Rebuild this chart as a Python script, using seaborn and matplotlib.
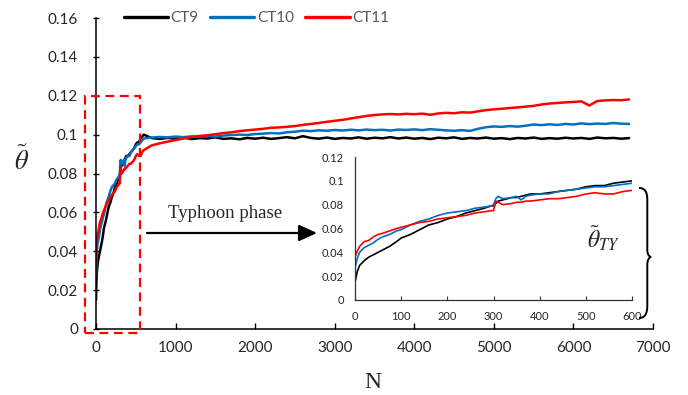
import pandas as pd
import seaborn as sns
import matplotlib.pyplot as plt
from matplotlib.patches import Rectangle, PathPatch
from matplotlib.path import Path
from matplotlib.patches import ArrowStyle
from matplotlib.ticker import FuncFormatter, MultipleLocator

# typhoon phase (first 600 steps), shared by the inset and the main plot
n_ty = [0, 5, 10, 20, 30, 40, 50, 60, 75, 90, 100, 120, 140, 160, 180, 200,
        220, 240, 260, 280, 295, 300, 305, 310, 320, 340, 350, 360, 370, 380,
        400, 420, 440, 460, 480, 500, 520, 540, 560, 580, 600]
ct9_ty = [0.015, 0.024, 0.029, 0.033, 0.036, 0.038, 0.040, 0.042, 0.045, 0.049,
          0.052, 0.055, 0.059, 0.063, 0.065, 0.068, 0.070, 0.073, 0.075, 0.077,
          0.079, 0.079, 0.081, 0.083, 0.084, 0.086, 0.086, 0.087, 0.088, 0.089,
          0.089, 0.090, 0.091, 0.092, 0.093, 0.095, 0.096, 0.096, 0.098, 0.099,
          0.100]
ct10_ty = [0.027, 0.035, 0.040, 0.044, 0.046, 0.048, 0.051, 0.053, 0.055, 0.058,
           0.059, 0.063, 0.066, 0.068, 0.071, 0.073, 0.074, 0.075, 0.077, 0.078,
           0.079, 0.080, 0.085, 0.087, 0.085, 0.086, 0.087, 0.084, 0.087, 0.088,
           0.089, 0.089, 0.091, 0.092, 0.093, 0.094, 0.095, 0.095, 0.096, 0.097,
           0.098]
ct11_ty = [0.036, 0.041, 0.045, 0.049, 0.050, 0.053, 0.055, 0.056, 0.058, 0.060,
           0.061, 0.063, 0.065, 0.066, 0.068, 0.069, 0.070, 0.071, 0.073, 0.074,
           0.075, 0.075, 0.083, 0.082, 0.080, 0.081, 0.082, 0.082, 0.083, 0.083,
           0.084, 0.085, 0.085, 0.086, 0.087, 0.089, 0.090, 0.089, 0.089, 0.091,
           0.092]

# long run after the typhoon phase
n_long = list(range(700, 6800, 100))
ct9_long = [0.0982, 0.0978, 0.0983, 0.0979, 0.0985, 0.0977, 0.0982, 0.0980, 0.0986, 0.0978,
            0.0981, 0.0976, 0.0983, 0.0979, 0.0984, 0.0978, 0.0982, 0.0987, 0.0981, 0.0992,
            0.0983, 0.0979, 0.0985, 0.0978, 0.0983, 0.0980, 0.0986, 0.0979, 0.0984, 0.0981,
            0.0987, 0.0980, 0.0985, 0.0979, 0.0983, 0.0977, 0.0984, 0.0981, 0.0986, 0.0978,
            0.0983, 0.0980, 0.0985, 0.0979, 0.0982, 0.0977, 0.0983, 0.0980, 0.0985, 0.0978,
            0.0982, 0.0979, 0.0984, 0.0980, 0.0983, 0.0978, 0.0985, 0.0981, 0.0983, 0.0979,
            0.0982]
ct10_long = [0.0985, 0.0988, 0.0986, 0.0990, 0.0987, 0.0991, 0.0989, 0.0993, 0.0990, 0.0995,
             0.0998, 0.1000, 0.0998, 0.1003, 0.1005, 0.1008, 0.1006, 0.1012, 0.1015, 0.1020,
             0.1018, 0.1022, 0.1020, 0.1024, 0.1021, 0.1025, 0.1022, 0.1026, 0.1023, 0.1025,
             0.1021, 0.1026, 0.1024, 0.1027, 0.1023, 0.1028, 0.1025, 0.1022, 0.1020, 0.1023,
             0.1019, 0.1030, 0.1038, 0.1042, 0.1040, 0.1044, 0.1041, 0.1046, 0.1052, 0.1049,
             0.1053, 0.1050, 0.1055, 0.1052, 0.1058, 0.1054, 0.1057, 0.1055, 0.1060, 0.1056,
             0.1055]
ct11_long = [0.0945, 0.0955, 0.0964, 0.0972, 0.0980, 0.0988, 0.0993, 0.0997, 0.1002, 0.1008,
             0.1012, 0.1018, 0.1022, 0.1026, 0.1030, 0.1035, 0.1037, 0.1040, 0.1044, 0.1050,
             0.1055, 0.1060, 0.1066, 0.1071, 0.1076, 0.1083, 0.1090, 0.1096, 0.1101, 0.1104,
             0.1106, 0.1104, 0.1107, 0.1105, 0.1108, 0.1102, 0.1109, 0.1112, 0.1110, 0.1115,
             0.1113, 0.1120, 0.1126, 0.1130, 0.1133, 0.1137, 0.1140, 0.1144, 0.1148, 0.1155,
             0.1160, 0.1163, 0.1166, 0.1168, 0.1171, 0.1150, 0.1173, 0.1176, 0.1178, 0.1177,
             0.1181]

palette = {"CT9": "#000000", "CT10": "#0070C0", "CT11": "#FF0000"}


def long_form(n, series):
    frames = [pd.DataFrame({"N": n, "theta": v, "case": name}) for name, v in series.items()]
    return pd.concat(frames, ignore_index=True)


main_df = long_form(n_ty + n_long, {"CT9": ct9_ty + ct9_long,
                                    "CT10": ct10_ty + ct10_long,
                                    "CT11": ct11_ty + ct11_long})
ty_df = long_form(n_ty, {"CT9": ct9_ty, "CT10": ct10_ty, "CT11": ct11_ty})

sns.set_theme(style="white")
plt.rcParams["font.family"] = ["Lato", "DejaVu Sans"]
plt.rcParams["mathtext.fontset"] = "stix"

W, H = 688, 395


def px(x, y):
    return x / W, 1 - y / H


fig = plt.figure(figsize=(6.88, 3.95), dpi=100)
ax = fig.add_axes([96 / W, 1 - 329 / H, (653 - 96) / W, (329 - 18) / H])

sns.lineplot(data=main_df, x="N", y="theta", hue="case", palette=palette,
             estimator=None, linewidth=1.8, ax=ax)
ax.set_xlim(0, 7000)
ax.set_ylim(0, 0.16)
ax.xaxis.set_major_locator(MultipleLocator(1000))
ax.yaxis.set_major_locator(MultipleLocator(0.02))
ax.yaxis.set_major_formatter(FuncFormatter(lambda v, p: "%g" % round(v, 3)))
ax.set_xlabel("")
ax.set_ylabel("")
sns.despine(ax=ax)
for s in ["left", "bottom"]:
    ax.spines[s].set_color("black")
    ax.spines[s].set_linewidth(1.1)
ax.tick_params(axis="x", direction="in", length=4.5, width=1, color="black",
               pad=9, labelsize=11, bottom=True)
ax.tick_params(axis="y", direction="inout", length=4, width=1, color="black",
               pad=11, labelsize=11, left=True)

h, l = ax.get_legend_handles_labels()
leg = ax.legend(h, l, ncol=3, loc="center left", bbox_to_anchor=px(124, 18),
                bbox_transform=fig.transFigure, frameon=False, fontsize=11,
                handlelength=2.9, handletextpad=0.15, columnspacing=0.75,
                borderpad=0, borderaxespad=0)
for line in leg.get_lines():
    line.set_linewidth(2.4)
for t in leg.get_texts():
    t.set_color("#595959")

# dashed box marking the typhoon phase
box = Rectangle((-140, -0.0022), 695, 0.1222, fill=False, edgecolor="#FF0000",
                linewidth=1.6, linestyle=(0, (4, 2.5)), clip_on=False, zorder=5)
ax.add_patch(box)

# inset: typhoon phase
ins = fig.add_axes([355 / W, 1 - 300 / H, (632 - 355) / W, (300 - 157) / H])
ins.patch.set_alpha(0)
sns.lineplot(data=ty_df, x="N", y="theta", hue="case", palette=palette,
             estimator=None, linewidth=1.2, ax=ins, legend=False)
ins.set_xlim(0, 600)
ins.set_ylim(0, 0.12)
ins.xaxis.set_major_locator(MultipleLocator(100))
ins.yaxis.set_major_locator(MultipleLocator(0.02))
ins.yaxis.set_major_formatter(FuncFormatter(lambda v, p: "%g" % round(v, 3)))
ins.set_xlabel("")
ins.set_ylabel("")
sns.despine(ax=ins)
for s in ["left", "bottom"]:
    ins.spines[s].set_color("#333333")
    ins.spines[s].set_linewidth(0.9)
ins.tick_params(axis="x", direction="in", length=3, width=0.8, color="#333333",
                pad=8, labelsize=8, bottom=True)
ins.tick_params(axis="y", length=0, pad=8, labelsize=8)

# annotations
fig.text(*px(22, 160), r"$\tilde{\theta}$", fontsize=19, ha="center", va="center")
fig.text(*px(373, 383), "N", fontsize=17, family="Liberation Serif",
         ha="center", va="center")
fig.text(*px(225, 213), "Typhoon phase", fontsize=13.5, family="Liberation Serif",
         ha="center", va="center")
fig.text(*px(604, 238), r"$\tilde{\theta}_{TY}$", fontsize=17, ha="center", va="center")
ax.annotate("", xy=px(317, 233), xytext=px(147, 233),
            xycoords="figure fraction", textcoords="figure fraction",
            arrowprops=dict(arrowstyle=ArrowStyle("-|>", head_length=0.55, head_width=0.25),
                            mutation_scale=20, lw=1.6, color="black",
                            shrinkA=0, shrinkB=0))

# curly brace next to the inset
brace_pts = [(639, 188), (645, 188), (647.3, 192), (647.3, 200),
             (647.3, 250),
             (647.3, 254), (649, 256.5), (651, 257),
             (649, 257.5), (647.3, 260), (647.3, 265),
             (647.3, 305),
             (647.3, 314), (645, 318), (639, 318)]
codes = [Path.MOVETO, Path.CURVE4, Path.CURVE4, Path.CURVE4,
         Path.LINETO,
         Path.CURVE4, Path.CURVE4, Path.CURVE4,
         Path.CURVE4, Path.CURVE4, Path.CURVE4,
         Path.LINETO,
         Path.CURVE4, Path.CURVE4, Path.CURVE4]
brace = PathPatch(Path([px(x, y) for x, y in brace_pts], codes),
                  transform=fig.transFigure, fill=False, lw=1.4, color="black")
fig.patches.append(brace)

fig.savefig("out.png", dpi=100)
